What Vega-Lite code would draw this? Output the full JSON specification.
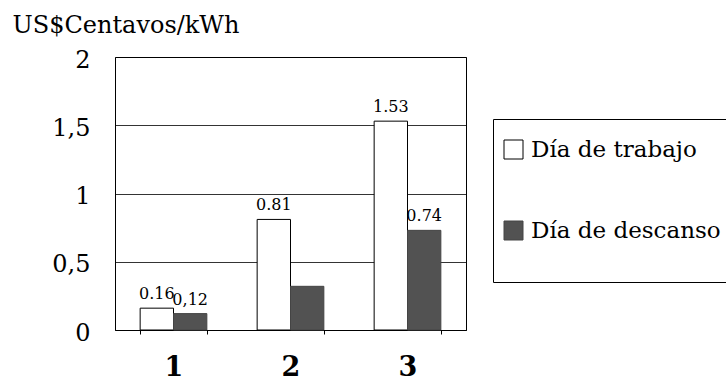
{
  "$schema": "https://vega.github.io/schema/vega-lite/v6.json",
  "width": 351,
  "height": 273,
  "autosize": {"type": "none"},
  "padding": {"left": 115, "top": 57, "right": 260, "bottom": 52},
  "background": "white",
  "config": {
    "font": "DejaVu Serif",
    "view": {"stroke": "black", "strokeWidth": 1}
  },
  "data": {
    "values": [
      {"grupo": "1", "serie": "Día de trabajo", "valor": 0.16, "etiqueta": "0.16"},
      {"grupo": "1", "serie": "Día de descanso", "valor": 0.12, "etiqueta": "0,12"},
      {"grupo": "2", "serie": "Día de trabajo", "valor": 0.81, "etiqueta": "0.81"},
      {"grupo": "2", "serie": "Día de descanso", "valor": 0.32, "etiqueta": ""},
      {"grupo": "3", "serie": "Día de trabajo", "valor": 1.53, "etiqueta": "1.53"},
      {"grupo": "3", "serie": "Día de descanso", "valor": 0.73, "etiqueta": "0.74"}
    ]
  },
  "encoding": {
    "x": {
      "field": "grupo",
      "type": "nominal",
      "scale": {"paddingInner": 0.43, "paddingOuter": 0.215},
      "axis": {
        "title": null,
        "labelAngle": 0,
        "labelFontSize": 27,
        "labelFontWeight": "bold",
        "labelColor": "black",
        "labelPadding": 20,
        "domainColor": "black",
        "ticks": true,
        "tickColor": "black",
        "tickSize": 4,
        "tickBand": "extent",
        "grid": false
      }
    },
    "xOffset": {"field": "serie", "type": "nominal", "sort": ["Día de trabajo", "Día de descanso"]},
    "y": {
      "field": "valor",
      "type": "quantitative",
      "scale": {"domain": [0, 2]},
      "axis": {
        "title": "US$Centavos/kWh",
        "titleAngle": 0,
        "titleAlign": "left",
        "titleBaseline": "alphabetic",
        "titleX": -103,
        "titleY": -25,
        "titleFontSize": 24,
        "titleFontWeight": "normal",
        "titleColor": "black",
        "values": [0, 0.5, 1, 1.5, 2],
        "labelExpr": "replace(format(datum.value, '~g'), '.', ',')",
        "labelFontSize": 24,
        "labelColor": "black",
        "labelPadding": 25,
        "labelOffset": 3,
        "ticks": false,
        "domain": false,
        "grid": true,
        "gridColor": "black",
        "gridWidth": 0.8
      }
    }
  },
  "layer": [
    {
      "mark": {"type": "bar", "strokeWidth": 1},
      "encoding": {
        "fill": {
          "field": "serie",
          "type": "nominal",
          "scale": {"domain": ["Día de trabajo", "Día de descanso"], "range": ["white", "#525252"]},
          "legend": {
            "title": " ",
            "titleOrient": "bottom",
            "titleFontSize": 4,
            "titlePadding": 16,
            "orient": "none",
            "legendX": 378,
            "legendY": 62,
            "direction": "vertical",
            "strokeColor": "black",
            "fillColor": "white",
            "padding": 19,
            "symbolType": "square",
            "symbolSize": 361,
            "symbolStrokeWidth": 1,
            "symbolOffset": -10,
            "labelFontSize": 23,
            "labelColor": "black",
            "labelOffset": 6,
            "rowPadding": 57,
            "labelLimit": 400
          }
        },
        "stroke": {
          "field": "serie",
          "type": "nominal",
          "scale": {"domain": ["Día de trabajo", "Día de descanso"], "range": ["black", "#444444"]},
          "legend": {
            "title": " ",
            "titleOrient": "bottom",
            "titleFontSize": 4,
            "titlePadding": 16,
            "orient": "none",
            "legendX": 378,
            "legendY": 62,
            "direction": "vertical",
            "strokeColor": "black",
            "fillColor": "white",
            "padding": 19,
            "symbolType": "square",
            "symbolSize": 361,
            "symbolStrokeWidth": 1,
            "symbolOffset": -10,
            "labelFontSize": 23,
            "labelColor": "black",
            "labelOffset": 6,
            "rowPadding": 57,
            "labelLimit": 400
          }
        }
      }
    },
    {
      "mark": {"type": "text", "baseline": "bottom", "dy": -6, "fontSize": 16, "color": "black"},
      "encoding": {"text": {"field": "etiqueta"}}
    }
  ]
}
